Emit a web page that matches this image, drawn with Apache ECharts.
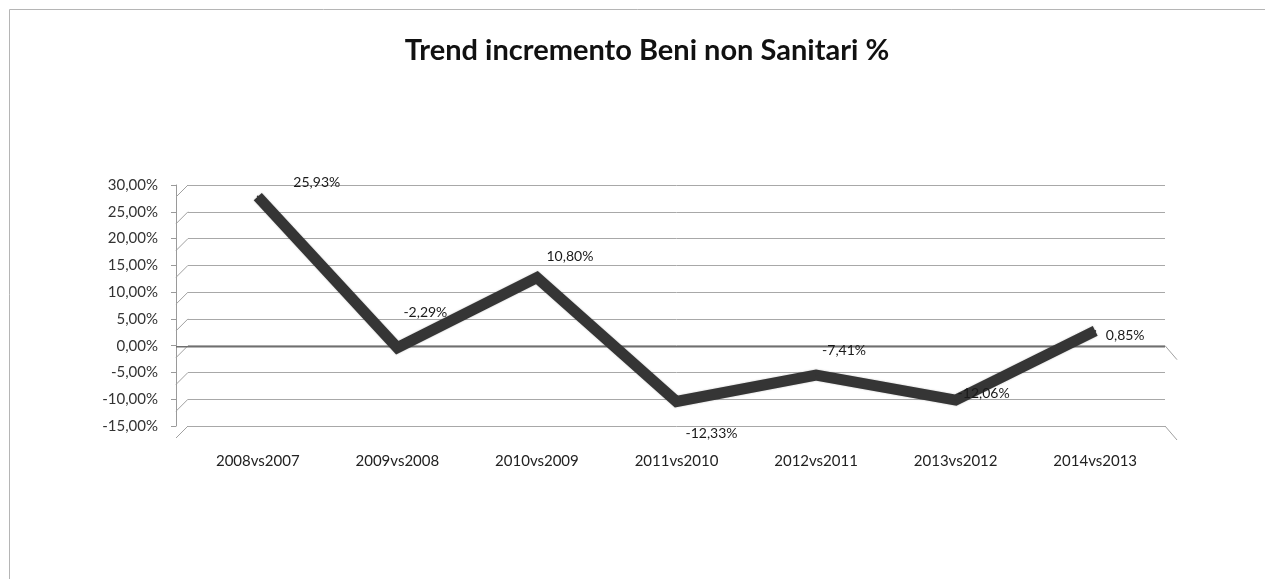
<!DOCTYPE html>
<html>
<head>
<meta charset="utf-8">
<script src="https://cdn.jsdelivr.net/npm/echarts@6/dist/echarts.min.js"></script>
<style>
  html, body { margin: 0; padding: 0; background: #fff; }
  #chart { width: 1265px; height: 579px; }
</style>
</head>
<body>
<div id="chart"></div>
<script>
// Year-over-year change of non-health goods (%)
const categories = ['2008vs2007', '2009vs2008', '2010vs2009', '2011vs2010', '2012vs2011', '2013vs2012', '2014vs2013'];
const values = [25.93, -2.29, 10.80, -12.33, -7.41, -12.06, 0.85];
const yTicks = [-15, -10, -5, 0, 5, 10, 15, 20, 25, 30];

const yMin = -15, yMax = 30, yStep = 5;
// the ribbon sits in front of the back wall, so it is drawn a little higher
const depthLift = 1.9;
// where each value label sits relative to its point
const labelOffsets = [[59, -14], [28, -35], [33, -21], [35, 32], [28, -25], [28, -7], [30, 5]];

const FONT = 'Lato, "Open Sans", sans-serif';
const pct = v => v.toFixed(2).replace('.', ',') + '%';

const chart = echarts.init(document.getElementById('chart'), null, { renderer: 'canvas' });

chart.setOption({
  backgroundColor: '#fff',
  animation: false,
  title: {
    text: 'Trend incremento Beni non Sanitari %',
    left: 642,
    textAlign: 'center',
    top: 31,
    textStyle: { fontFamily: FONT, fontWeight: 'bold', fontSize: 29, color: '#111' }
  },
  graphic: [{
    type: 'rect',
    left: 7, top: 7,
    shape: { width: 1400, height: 700 },
    style: { fill: 'none', stroke: '#b5b5b5', lineWidth: 1 },
    silent: true
  }],
  grid: { left: 188, right: 100, top: 185, bottom: 153 },
  xAxis: {
    type: 'category',
    data: categories,
    boundaryGap: true,
    axisLine: { show: false, onZero: false },
    axisTick: { show: false },
    axisLabel: { margin: 28, fontFamily: FONT, fontSize: 15, color: '#222' }
  },
  yAxis: [{
    type: 'value',
    min: yMin, max: yMax, interval: yStep,
    offset: 12,
    axisLine: { show: true, lineStyle: { color: '#9a9a9a', width: 1 } },
    axisTick: { show: true, length: 5, lineStyle: { color: '#9a9a9a' } },
    axisLabel: { margin: 18, fontFamily: FONT, fontSize: 15, color: '#333', formatter: v => pct(v) },
    splitLine: { show: true, lineStyle: { color: '#a8a8a8', width: 1 } }
  }, {
    type: 'value',
    show: false,
    min: yMin - depthLift, max: yMax - depthLift,
    splitLine: { show: false }
  }],
  series: [{
    // side wall edges and floor line of the 3D frame
    type: 'custom',
    yAxisIndex: 0,
    silent: true,
    z: 1,
    data: yTicks.map(v => [0, v]),
    renderItem: function (params, api) {
      const v = api.value(1);
      const cs = params.coordSys;
      const y = api.coord([0, v])[1];
      const x0 = cs.x, x1 = cs.x + cs.width;
      const stroke = { stroke: '#a0a0a0', lineWidth: 1 };
      const children = [{
        type: 'line',
        shape: { x1: x0 - 12, y1: y + 12, x2: x0, y2: y },
        style: stroke
      }];
      if (v === 0) {
        children.push({
          type: 'line',
          shape: { x1: x0 - 12, y1: y + 1, x2: x1, y2: y + 1 },
          style: { stroke: '#6f6f6f', lineWidth: 1.5 }
        });
      }
      if (v === 0 || v === yMin) {
        children.push({
          type: 'line',
          shape: { x1: x1, y1: y, x2: x1 + 12, y2: y + 14 },
          style: stroke
        });
      }
      return { type: 'group', children: children };
    }
  }, {
    type: 'line',
    name: 'Beni non Sanitari',
    yAxisIndex: 1,
    z: 3,
    data: values.map((v, i) => ({
      value: v,
      label: { offset: labelOffsets[i] }
    })),
    symbol: 'circle',
    symbolSize: 2,
    showSymbol: true,
    itemStyle: { color: '#353535' },
    lineStyle: { color: '#353535', width: 11, join: 'miter', cap: 'butt',
      shadowColor: 'rgba(0,0,0,0.25)', shadowBlur: 2 },
    label: {
      show: true,
      position: 'inside',
      align: 'center',
      verticalAlign: 'middle',
      fontFamily: FONT,
      fontSize: 14,
      color: '#1a1a1a',
      formatter: p => pct(p.value)
    }
  }]
});
</script>
</body>
</html>
